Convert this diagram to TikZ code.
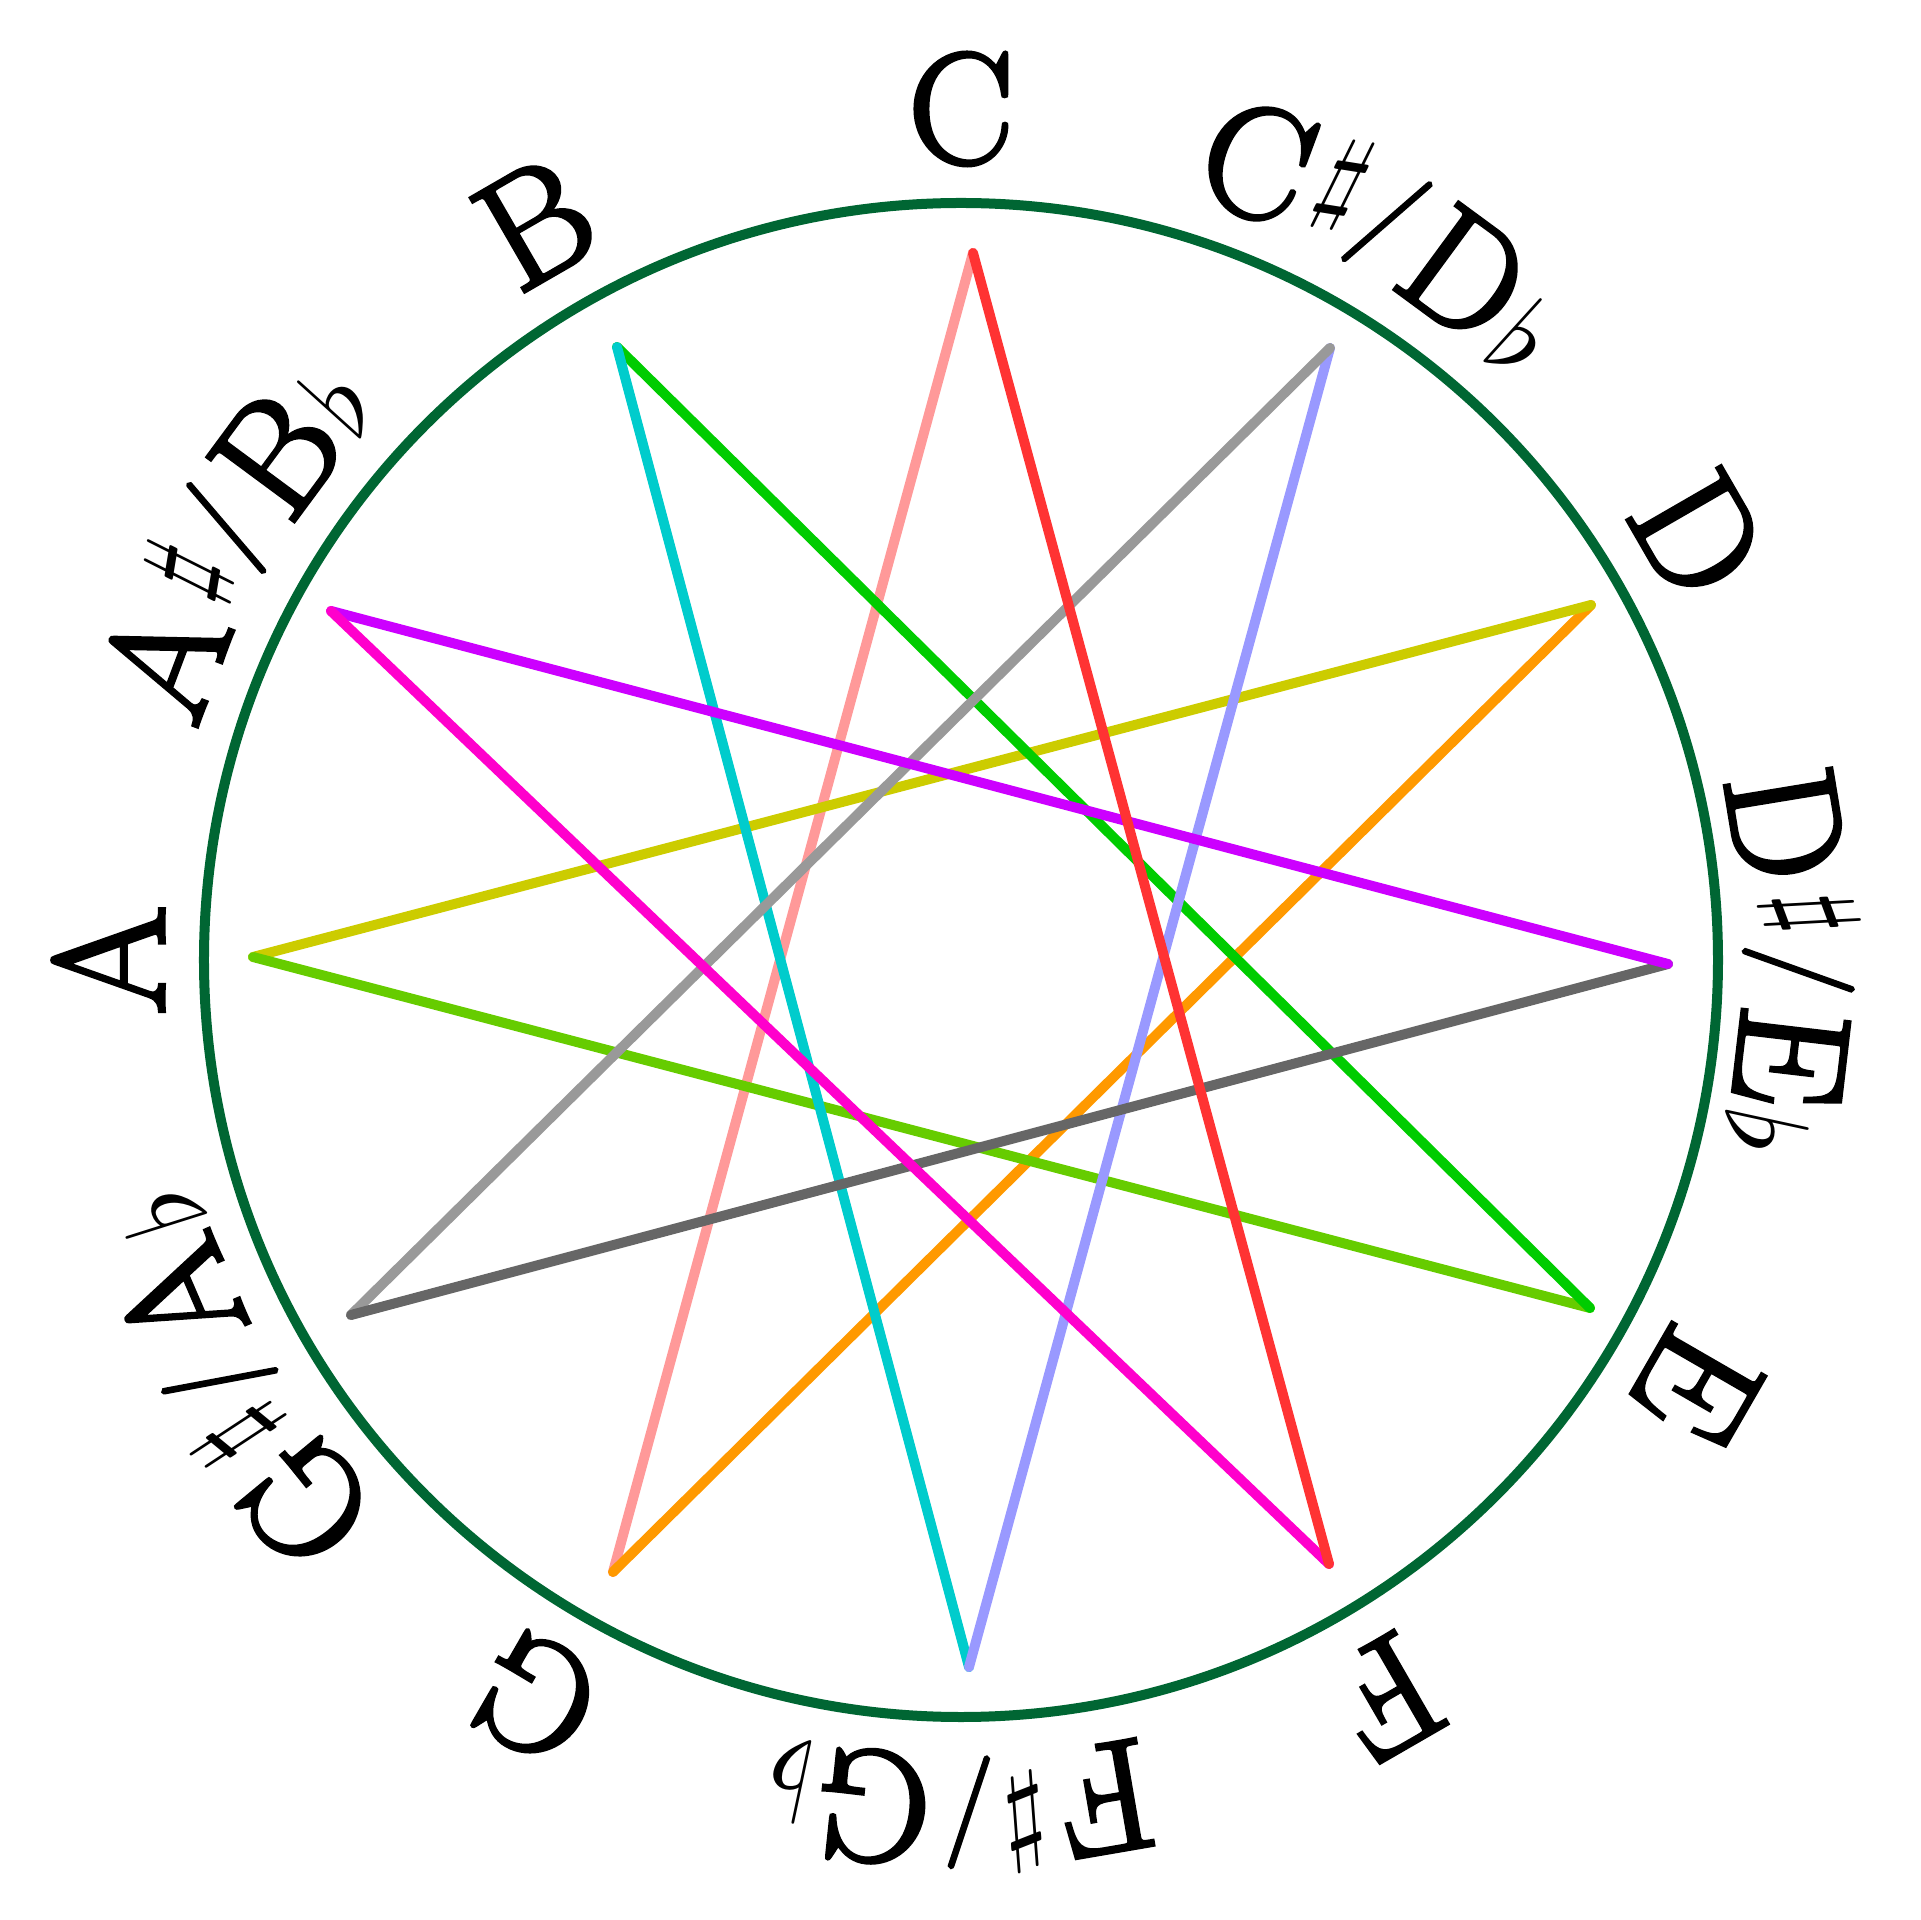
\documentclass[tikz,border=0pt]{standalone}
\usepackage{amsmath}
\usepackage{amssymb}
\usepackage{xcolor}
\usepackage{graphicx}
\usepackage{fontspec}
\usepackage{tikz}

\newfontfamily\notefamily{Latin Modern Roman}[FakeBold=2.5]

\definecolor{ringgreen}{HTML}{006633}
\definecolor{fourthred}{HTML}{FF3333}
\definecolor{fourthmagenta}{HTML}{FF00CC}
\definecolor{fourthpurple}{HTML}{CC00FF}
\definecolor{fourthdarkgray}{HTML}{666666}
\definecolor{fourthgray}{HTML}{999999}
\definecolor{fourthlavender}{HTML}{9999FF}
\definecolor{fourthcyan}{HTML}{00CCCC}
\definecolor{fourthgreen}{HTML}{00CC00}
\definecolor{fourthlime}{HTML}{66CC00}
\definecolor{fourthyellow}{HTML}{CCCC00}
\definecolor{fourthorange}{HTML}{FF9900}
\definecolor{fourthpink}{HTML}{FF9999}

\newcommand{\notefont}{\notefamily\fontsize{45}{54}\selectfont}
\newcommand{\shp}{\raisebox{0.25em}{\scalebox{3.15}{\normalfont\normalsize$\sharp$}}}
\newcommand{\flt}{\scalebox{3.15}{\normalfont\normalsize$\flat$}}
\newcommand{\slsh}{\raisebox{0.175em}{\scalebox{0.7}{/}}}
% #1 angle, #2 baseline radius, #3 name, #4 total width (em), #5 pieces piece/width
\newcommand{\notelabel}[5]{%
  \gdef\cumw{0}%
  \foreach \p/\w [count=\i] in {#5} {%
    \pgfmathsetmacro\pang{#1+(#4/2-\cumw-\w/2)*45/(#2*28.45274)*180/pi}%
    \node[anchor=base, inner sep=0pt, rotate=\pang-90] (#3-\i) at (\pang:#2) {\notefont\p};
    \pgfmathsetmacro\nextw{\cumw+\w}%
    \xdef\cumw{\nextw}}}

\begin{document}
\begin{tikzpicture}
			\def \ringR {7.57}
			\def \textR {7.97}
			\tikzset{chord/.style={line width=1mm, line cap=round}}
			
			%页面
			\useasboundingbox (-9.61,-9.60) rectangle (9.59,9.60);
			
			%圆环
			\draw[ringgreen, line width=1mm] (0,0) circle[radius=\ringR];
			
			%十二个音
			\coordinate (C) at (0.12,7.07);
			\coordinate (Cs) at (3.69,6.12);
			\coordinate (D) at (6.30,3.55);
			\coordinate (Ds) at (7.07,-0.04);
			\coordinate (E) at (6.29,-3.48);
			\coordinate (F) at (3.68,-6.04);
			\coordinate (Fs) at (0.08,-7.07);
			\coordinate (G) at (-3.48,-6.12);
			\coordinate (Gs) at (-6.10,-3.55);
			\coordinate (A) at (-7.08,0.03);
			\coordinate (As) at (-6.30,3.49);
			\coordinate (B) at (-3.44,6.13);
			
			%四度连线
			\draw[chord, fourthpink] (G) -- (C);
			\draw[chord, fourthorange] (D) -- (G);
			\draw[chord, fourthyellow] (A) -- (D);
			\draw[chord, fourthlime] (E) -- (A);
			\draw[chord, fourthgreen] (B) -- (E);
			\draw[chord, fourthcyan] (Fs) -- (B);
			\draw[chord, fourthlavender] (Cs) -- (Fs);
			\draw[chord, fourthgray] (Gs) -- (Cs);
			\draw[chord, fourthdarkgray] (Ds) -- (Gs);
			\draw[chord, fourthpurple] (As) -- (Ds);
			\draw[chord, fourthmagenta] (F) -- (As);
			\draw[chord, fourthred] (C) -- (F);
			
			%音名
			\notelabel{90}{\textR}{lC}{0.722}{C/0.722}
			\notelabel{60}{\textR}{lCs}{2.419}{C/0.722, \shp/0.311, \slsh/0.35, D/0.764, \flt/0.272}
			\notelabel{30}{\textR}{lD}{0.764}{D/0.764}
			\notelabel{0}{7.82}{lDs}{2.378}{D/0.764, \shp/0.311, \slsh/0.35, E/0.681, \flt/0.272}
			\notelabel{-30}{\textR}{lE}{0.681}{E/0.681}
			\notelabel{-60}{\textR}{lF}{0.653}{F/0.653}
			\notelabel{-90}{\textR}{lFs}{2.371}{F/0.653, \shp/0.311, \slsh/0.35, G/0.785, \flt/0.272}
			\notelabel{-120}{\textR}{lG}{0.785}{G/0.785}
			\notelabel{-150}{\textR}{lGs}{2.468}{G/0.785, \shp/0.311, \slsh/0.35, A/0.75, \flt/0.272}
			\notelabel{180}{\textR}{lA}{0.75}{A/0.75}
			\notelabel{150}{\textR}{lAs}{2.391}{A/0.75, \shp/0.311, \slsh/0.35, B/0.708, \flt/0.272}
			\notelabel{120}{\textR}{lB}{0.708}{B/0.708}
\end{tikzpicture}
\end{document}
